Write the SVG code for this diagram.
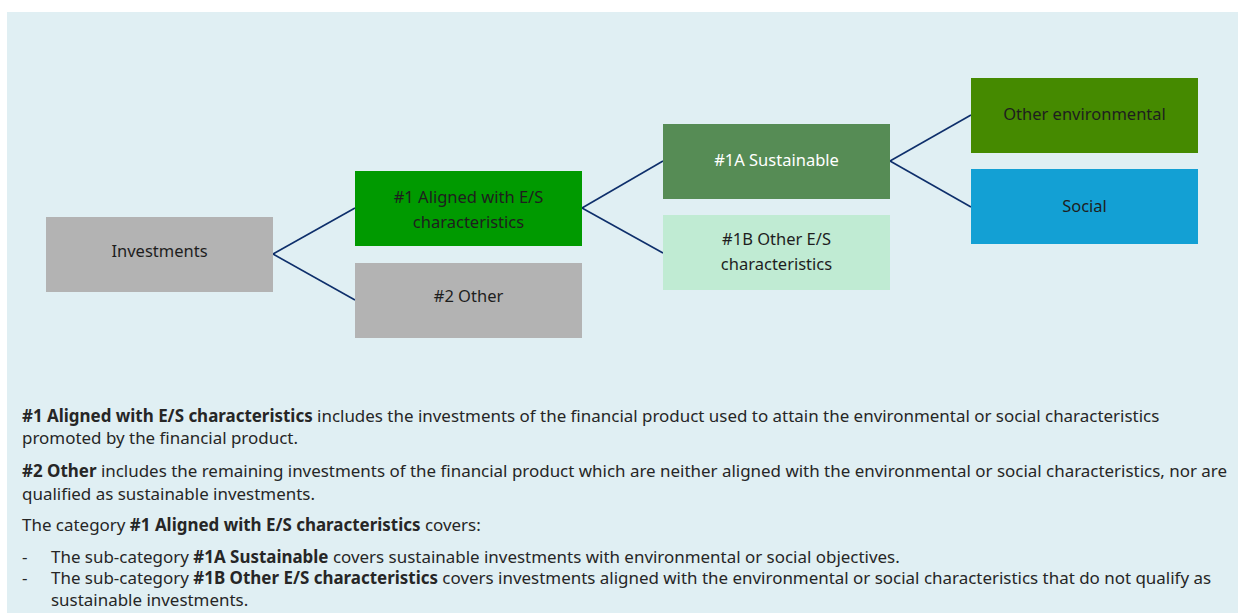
<svg xmlns="http://www.w3.org/2000/svg" width="1238" height="613" viewBox="0 0 1238 613">
<style>
.bx text{font-family:"Noto Sans","Liberation Sans",sans-serif;font-size:16.5px;fill:#1e1e1e;text-anchor:middle;dominant-baseline:central}
.body{font-family:"Noto Sans","Liberation Sans",sans-serif;font-size:16.95px;fill:#262626}
.body .b{font-weight:bold}
.con line{stroke:#0e2f6b;stroke-width:1.6;fill:none}
</style>
<rect x="0" y="0" width="1238" height="613" fill="#ffffff"/>
<rect x="7" y="12" width="1231" height="601" fill="#e0eff3"/>
<g class="con">
<line x1="273" y1="254" x2="355" y2="208"/>
<line x1="273" y1="254" x2="355" y2="300"/>
<line x1="582" y1="208" x2="663" y2="161"/>
<line x1="582" y1="208" x2="663" y2="253"/>
<line x1="890" y1="161" x2="971" y2="115"/>
<line x1="890" y1="161" x2="971" y2="207"/>
</g>
<g id="investments" class="bx"><rect x="46" y="217" width="227" height="75" fill="#b3b3b3"/><text x="159.5" y="250">Investments</text></g>
<g id="aligned" class="bx"><rect x="355" y="171" width="227" height="75" fill="#009a00"/><text x="468.5" y="196">#1 Aligned with E/S</text><text x="468.5" y="221">characteristics</text></g>
<g id="other2" class="bx"><rect x="355" y="263" width="227" height="75" fill="#b3b3b3"/><text x="468.5" y="295">#2 Other</text></g>
<g id="sustainable" class="bx"><rect x="663" y="124" width="227" height="75" fill="#568c55"/><text x="776.5" y="159" style="fill:#ffffff">#1A Sustainable</text></g>
<g id="other1b" class="bx"><rect x="663" y="215" width="227" height="75" fill="#c0ebd3"/><text x="776.5" y="238">#1B Other E/S</text><text x="776.5" y="263">characteristics</text></g>
<g id="otherenv" class="bx"><rect x="971" y="78" width="227" height="75" fill="#458a00"/><text x="1084.5" y="113">Other environmental</text></g>
<g id="social" class="bx"><rect x="971" y="169" width="227" height="75" fill="#13a0d4"/><text x="1084.5" y="205">Social</text></g>
<g class="body">
<text x="22" y="422"><tspan class="b">#1 Aligned with E/S characteristics</tspan> includes the investments of the financial product used to attain the environmental or social characteristics</text>
<text x="22" y="444">promoted by the financial product.</text>
<text x="22" y="477"><tspan class="b">#2 Other</tspan> includes the remaining investments of the financial product which are neither aligned with the environmental or social characteristics, nor are</text>
<text x="22" y="500">qualified as sustainable investments.</text>
<text x="22" y="531">The category <tspan class="b">#1 Aligned with E/S characteristics</tspan> covers:</text>
<text x="22" y="563">-</text>
<text x="51" y="563">The sub-category <tspan class="b">#1A Sustainable</tspan> covers sustainable investments with environmental or social objectives.</text>
<text x="22" y="584">-</text>
<text x="51" y="584">The sub-category <tspan class="b">#1B Other E/S characteristics</tspan> covers investments aligned with the environmental or social characteristics that do not qualify as</text>
<text x="51" y="606">sustainable investments.</text>
</g>
</svg>
